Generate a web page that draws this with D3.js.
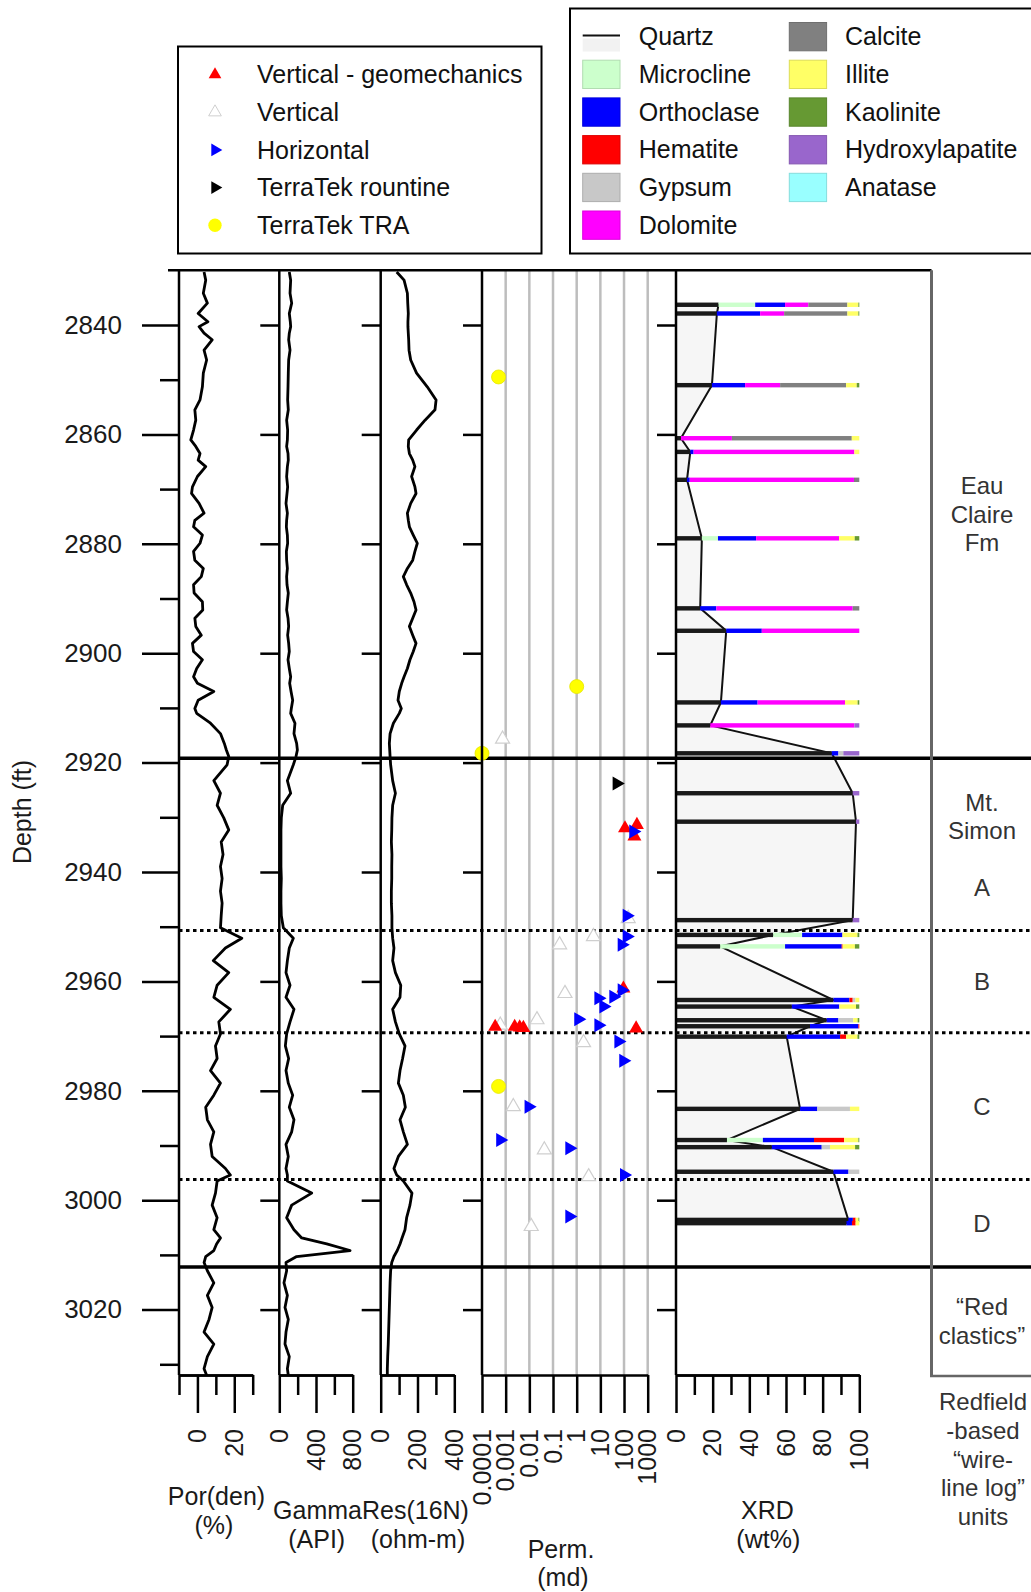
<!DOCTYPE html>
<html>
<head>
  <meta charset="utf-8">
  <title>Well log tracks: porosity, gamma, resistivity, permeability, XRD</title>
  <script src="https://cdn.jsdelivr.net/npm/d3@7/dist/d3.min.js"></script>
  <style>
    body { margin: 0; background: #fff; }
    svg { font-family: "Liberation Sans", Arial, Helvetica, sans-serif; }
  </style>
</head>
<body>
<script>
// ---- log curves (depth in ft) ----
var logDepth = [2830.3, 2831.8, 2834.2, 2836.0, 2837.9, 2839.4, 2840.3, 2841.5, 2842.7, 2844.6, 2846.4, 2848.8, 2851.3, 2853.7, 2855.5, 2857.4, 2859.2, 2861.0, 2862.2, 2863.5, 2864.7, 2865.9, 2867.7, 2869.6, 2870.8, 2872.6, 2874.4, 2875.7, 2876.9, 2878.4, 2879.9, 2881.4, 2883.0, 2884.5, 2886.0, 2887.5, 2889.0, 2890.6, 2892.1, 2893.6, 2895.1, 2896.7, 2898.2, 2899.7, 2901.2, 2902.8, 2904.3, 2905.5, 2907.0, 2908.6, 2910.1, 2911.0, 2912.8, 2914.7, 2916.5, 2917.7, 2918.9,
  2920.4, 2923.3, 2925.6, 2927.8, 2930.1, 2932.3, 2934.5, 2936.8, 2939.0, 2941.2, 2943.5, 2945.7, 2948.0, 2950.2, 2952.1, 2953.9, 2956.2, 2958.4, 2960.7, 2962.9, 2965.1, 2967.4, 2969.6, 2971.8, 2974.1, 2976.3, 2978.6, 2980.8, 2983.0, 2985.3, 2987.5, 2989.8, 2992.0, 2994.2, 2995.4, 2996.5, 2998.7, 3000.9, 3003.2, 3005.4, 3006.9, 3008.0, 3009.2, 3010.3, 3011.4, 3012.9, 3015.1, 3017.4, 3019.6, 3021.8, 3024.1, 3026.3, 3028.6, 3030.8, 3032.0];

var porosity = [3.6, 4.5, 3.2, 5.4, 0.4, 5.7, 0.9, 3.6, 8.0, 3.6, 5.0, 3.2, 2.7, 1.4, -1.4, -0.9, -2.1, -3.6, -0.9, 1.4, 0.4, 4.5, 0, -2.7, -3.2, 0.9, 3.6, -1.4, -2.1, 2.7, 1.4, -2.1, -1.4, 3.2, 2.1, -2.1, -1.8, 2.7, 2.9, -1.4, -0.9, 2.1, -2.7, -2.1, 2.7, -0.4, -2.1, 0, 8.9, 0.4, -1.4, -0.4, 7.1, 12.5, 14.6, 15.7, 17.0,
  16.1, 8.9, 12.5, 10.7, 14.3, 17.0, 12.9, 13.9, 12.5, 13.4, 12.5, 13.4, 12.9, 12.5, 24.1, 15.2, 8.6, 17.0, 10.7, 8.9, 17.9, 11.6, 12.5, 9.8, 10.7, 7.1, 12.5, 8.9, 4.5, 5.4, 8.9, 7.1, 8.0, 15.2, 17.9, 10.7, 9.8, 8.0, 10.7, 8.9, 12.5, 10.4, 8.9, 4.5, 3.6, 5.4, 8.9, 5.4, 8.0, 6.3, 3.6, 8.9, 5.4, 3.6, 5.0];

var gamma = [109, 124, 117, 135, 109, 120, 124, 109, 102, 117, 102, 98, 95, 91, 98, 80, 91, 88, 80, 95, 98, 88, 80, 91, 84, 73, 88, 80, 77, 88, 91, 77, 80, 88, 80, 84, 98, 88, 80, 95, 102, 91, 102, 109, 95, 109, 124, 113, 128, 146, 131, 124, 171, 160, 189, 197, 182,
  153, 88, 124, 37, 22, 18, 18, 18, 18, 22, 18, 18, 22, 44, 153, 109, 88, 73, 117, 73, 160, 117, 80, 66, 102, 73, 98, 146, 109, 160, 135, 73, 98, 73, 88, 88, 353, 135, 80, 160, 244, 517, 771, 189, 73, 80, 51, 88, 62, 98, 73, 62, 109, 88, 98];

var resistivity = [87, 127, 145, 147, 150, 148, 148, 150, 152, 154, 163, 195, 253, 301, 295, 241, 195, 152, 150, 156, 174, 186, 168, 186, 192, 163, 145, 150, 156, 177, 199, 186, 174, 145, 123, 141, 163, 181, 192, 174, 156, 174, 192, 177, 159, 145, 127, 114, 101, 94, 112, 101, 69, 51, 47, 49, 51,
  54, 65, 80, 65, 61, 60, 58, 61, 60, 60, 58, 58, 61, 61, 65, 72, 65, 80, 109, 105, 65, 80, 101, 132, 119, 105, 96, 123, 134, 105, 123, 145, 96, 72, 87, 123, 170, 159, 141, 132, 116, 105, 90, 72, 60, 54, 51, 49, 47, 45, 43, 41, 38, 36, 36];

// ---- permeability (md) by sample type ----
var permTypes = ["Vertical - geomechanics", "Vertical", "Horizontal", "TerraTek rountine", "TerraTek TRA"];
var geoDepth = [2931.4, 2932.0, 2933.5, 2961.3, 2968.3, 2968.3, 2968.4, 2968.5, 2968.6];
var geoPerm = [350, 110, 275, 94, 0.00036, 0.0024, 0.0039, 0.0056, 324];
var vertDepth = [2915.7, 2948.5, 2951.8, 2953.3, 2962.2, 2967.0, 2968.0, 2971.2, 2982.9, 2990.8, 2995.7, 3004.8];
var vertPerm = [0.00074, 150, 5.1, 0.19, 0.32, 0.021, 0.00059, 1.95, 0.0021, 0.043, 3.2, 0.012];
var horDepth = [2932.6, 2948.0, 2951.8, 2953.3, 2961.6, 2962.8, 2963.1, 2964.6, 2966.9, 2968.0, 2971.0, 2974.5, 2982.9, 2989.0, 2990.5, 2995.4, 3003.0];
var horPerm = [247, 130, 130, 80, 80, 35.5, 8.3, 13.5, 1.17, 8.3, 58, 93, 0.0093, 0.00059, 0.49, 100, 0.49];
var routineDepth = [2923.8];
var routinePerm = [49];
var traDepth = [2849.5, 2906.1, 2918.3, 2979.2];
var traPerm = [0.0005, 1.0, 0.0001, 0.0005];

// ---- XRD (wt%) ----
var minerals = ["Quartz", "Microcline", "Orthoclase", "Hematite", "Gypsum", "Dolomite", "Calcite", "Illite", "Kaolinite", "Hydroxylapatite", "Anatase"];
var mineralColors = ["#1a1a1a", "#ccffcc", "#0000ff", "#ff0000", "#c8c8c8", "#ff00ff", "#808080", "#ffff66", "#669933", "#9966cc", "#99ffff"];
var xrdDepth = [2836.3, 2837.9, 2851.0, 2860.7, 2863.2, 2868.3, 2879.0, 2891.8, 2895.9, 2909.0, 2913.2, 2918.3, 2925.6, 2930.8, 2948.8, 2951.5, 2953.6, 2963.4, 2964.6, 2967.1, 2968.2, 2970.1, 2983.3, 2989.0, 2990.3, 2994.8, 3003.6, 3004.2];
var quartz =          [23.2, 22.3, 19.6, 2.7, 7.8, 6.0, 14.1, 13.2, 27.4, 24.5, 18.7, 85.0, 96.4, 98.2, 96.4, 53.0, 24.1, 85.9, 63.2, 82.2, 73.1, 60.4, 67.7, 27.8, 52.3, 85.9, 94.0, 93.0];
var microcline =      [20.0, 0, 0, 0, 0, 0, 8.8, 0, 0, 0, 0, 0, 0, 0, 0, 15.8, 35.4, 0, 0, 0, 0, 0, 0, 19.6, 0, 0, 0, 0];
var orthoclase =      [16.3, 23.6, 18.1, 0, 1.8, 1.5, 20.8, 8.8, 19.4, 20.0, 0, 3.6, 0, 0, 0, 22.0, 30.9, 8.7, 25.9, 6.4, 26.4, 29.1, 9.4, 27.9, 27.2, 8.2, 2.5, 3.0];
var hematite =        [0, 0, 0, 0, 0, 0, 0, 0, 0, 0, 0, 0, 0, 0, 0, 0, 0.5, 1.8, 0, 0, 0.5, 3.3, 0, 16.4, 0, 0, 1.5, 2.0];
var gypsum =          [0, 0, 0, 0, 0, 0, 0, 0, 0, 0, 0, 2.7, 0, 0, 0, 0, 0, 1.5, 0, 8.1, 0, 0, 17.8, 0, 4.5, 5.9, 0, 0];
var dolomite =        [12.7, 13.1, 19.1, 27.8, 87.7, 89.6, 45.3, 74.4, 53.2, 47.7, 78.6, 0, 0, 0, 0, 0, 0, 0, 0, 0, 0, 0, 0, 0, 0, 0, 0, 0];
var calcite =         [21.3, 34.5, 36.0, 65.4, 0, 2.9, 0, 3.6, 0, 0, 0, 0, 0, 0, 0, 0, 0, 0, 0, 0, 0, 0, 0, 0, 0, 0, 0, 0];
var illite =          [6.0, 6.0, 5.8, 4.1, 2.7, 0, 8.5, 0, 0, 6.9, 0, 0, 0, 0, 0, 8.2, 6.7, 2.1, 9.1, 2.4, 0, 6.2, 5.1, 7.8, 13.7, 0, 1.5, 2.0];
var kaolinite =       [0.5, 0.5, 1.4, 0, 0, 0, 2.5, 0, 0, 0.9, 0, 0, 0, 0, 0, 1.0, 2.4, 0, 1.8, 0.9, 0, 1.0, 0, 0.5, 2.3, 0, 0.5, 0];
var hydroxylapatite = [0, 0, 0, 0, 0, 0, 0, 0, 0, 0, 2.7, 8.7, 3.6, 1.8, 3.6, 0, 0, 0, 0, 0, 0, 0, 0, 0, 0, 0, 0, 0];
var anatase =         [0, 0, 0, 0, 0, 0, 0, 0, 0, 0, 0, 0, 0, 0, 0, 0, 0, 0, 0, 0, 0, 0, 0, 0, 0, 0, 0, 0];
var mineralValues = [quartz, microcline, orthoclase, hematite, gypsum, dolomite, calcite, illite, kaolinite, hydroxylapatite, anatase];

// ---- formation tops / unit boundaries ----
var formationTops = [2919.2, 3012.2];
var unitTops = [2950.7, 2969.4, 2996.2];
var unitNames = [["Eau", "Claire", "Fm"], ["Mt.", "Simon"], ["A"], ["B"], ["C"], ["D"], ["\u201CRed", "clastics\u201D"]];
var unitMidDepth = [2874.6, 2929.9, 2942.9, 2960.0, 2982.8, 3004.2, 3022.1];

// ---- ticks ----
var depthMajor = [2840, 2860, 2880, 2900, 2920, 2940, 2960, 2980, 3000, 3020];
var depthMinor = [2850, 2870, 2890, 2910, 2930, 2950, 2970, 2990, 3010, 3030];
var porMajor = [0, 20], porMinor = [-10, 10, 30];
var gamMajor = [0, 400, 800], gamMinor = [200, 600];
var resMajor = [0, 200, 400], resMinor = [100, 300];
var permMajor = [0.0001, 0.001, 0.01, 0.1, 1, 10, 100, 1000];
var permLabels = ["0.0001", "0.001", "0.01", "0.1", "1", "10", "100", "1000"];
var xrdMajor = [0, 20, 40, 60, 80, 100], xrdMinor = [10, 30, 50, 70, 90];

// ================= drawing =================
var svg = d3.select("body").append("svg").attr("width", 1031).attr("height", 1592);

var y = d3.scaleLinear().domain([2840, 3020]).range([325, 1309.6]);
var plotTop = y(2830), plotBot = 1375;
var xPor = d3.scaleLinear().domain([-10, 30]).range([179, 252.7]);
var xGam = d3.scaleLinear().domain([0, 800]).range([279.3, 352.7]);
var xRes = d3.scaleLinear().domain([0, 400]).range([380.7, 454.3]);
var xPerm = d3.scaleLog().domain([0.0001, 1000]).range([482, 647.7]);
var xXrd = d3.scaleLinear().domain([0, 100]).range([676, 859.3]);
var trackLeft = [179, 279.3, 380.7, 482, 676];

// perm grid
svg.append("g").selectAll("line").data(permMajor.slice(1)).enter().append("line")
  .attr("x1", function(d) { return xPerm(d); }).attr("x2", function(d) { return xPerm(d); })
  .attr("y1", plotTop).attr("y2", plotBot)
  .attr("stroke", "#bdbdbd").attr("stroke-width", 2.5);

// XRD quartz polygon
var qPts = [[0, xrdDepth[0]]];
xrdDepth.forEach(function(d, i) { qPts.push([quartz[i], d]); });
qPts.push([0, xrdDepth[xrdDepth.length - 1]]);
svg.append("path")
  .attr("d", d3.line().x(function(p) { return xXrd(p[0]); }).y(function(p) { return y(p[1]); })(qPts) + "Z")
  .attr("fill", "#f6f6f6").attr("stroke", "#111").attr("stroke-width", 2);

// XRD stacked bars
var bars = [];
xrdDepth.forEach(function(d, i) {
  var cum = 0;
  mineralValues.forEach(function(arr, m) {
    if (arr[i] > 0) bars.push({ depth: d, x0: cum, x1: cum + arr[i], m: m });
    cum += arr[i];
  });
});
svg.append("g").selectAll("rect").data(bars).enter().append("rect")
  .attr("x", function(b) { return xXrd(b.x0); })
  .attr("width", function(b) { return Math.max(0.8, xXrd(b.x1) - xXrd(b.x0)); })
  .attr("y", function(b) { return y(b.depth) - 2.2; })
  .attr("height", 4.4)
  .attr("fill", function(b) { return mineralColors[b.m]; });

// log curves
function drawCurve(xs, vals) {
  var pts = logDepth.map(function(d, i) { return [vals[i], d]; });
  svg.append("path")
    .attr("d", d3.line().x(function(p) { return xs(p[0]); }).y(function(p) { return y(p[1]); })(pts))
    .attr("fill", "none").attr("stroke", "#000").attr("stroke-width", 2.8)
    .attr("stroke-linejoin", "round");
}
drawCurve(xPor, porosity);
drawCurve(xGam, gamma);
drawCurve(xRes, resistivity);

// boundaries
svg.append("g").selectAll("line").data(unitTops).enter().append("line")
  .attr("x1", 179).attr("x2", 1031)
  .attr("y1", function(d) { return y(d); }).attr("y2", function(d) { return y(d); })
  .attr("stroke", "#000").attr("stroke-width", 3).attr("stroke-dasharray", "3.5,3.5");
svg.append("g").selectAll("line").data(formationTops).enter().append("line")
  .attr("x1", 179).attr("x2", 1031)
  .attr("y1", function(d) { return y(d); }).attr("y2", function(d) { return y(d); })
  .attr("stroke", "#000").attr("stroke-width", 3.5);

// perm markers
var tri = d3.symbol().type(d3.symbolTriangle).size(85);
function markers(depths, perms, fill, stroke, rot) {
  svg.append("g").selectAll("path").data(depths).enter().append("path")
    .attr("d", tri)
    .attr("transform", function(d, i) { return "translate(" + xPerm(perms[i]) + "," + y(d) + ") rotate(" + rot + ")"; })
    .attr("fill", fill).attr("stroke", stroke).attr("stroke-width", 1.2);
}
markers(vertDepth, vertPerm, "#fff", "#cfcfcf", 0);
markers(geoDepth, geoPerm, "#ff0000", "none", 0);
markers(horDepth, horPerm, "#0000ff", "none", 90);
markers(routineDepth, routinePerm, "#000", "none", 90);
svg.append("g").selectAll("circle").data(traDepth).enter().append("circle")
  .attr("cx", function(d, i) { return xPerm(traPerm[i]); })
  .attr("cy", function(d) { return y(d); })
  .attr("r", 7).attr("fill", "#ffff00").attr("stroke", "#e6e600").attr("stroke-width", 0.8);

// track borders and top line
svg.append("g").selectAll("line").data(trackLeft).enter().append("line")
  .attr("x1", function(d) { return d; }).attr("x2", function(d) { return d; })
  .attr("y1", plotTop).attr("y2", plotBot)
  .attr("stroke", "#000").attr("stroke-width", 2.5);
svg.append("line").attr("x1", 168).attr("x2", 931.5).attr("y1", plotTop).attr("y2", plotTop)
  .attr("stroke", "#000").attr("stroke-width", 2.5);

// depth axis
function styleAxis(g) {
  g.selectAll("line").attr("stroke", "#000").attr("stroke-width", 2.5);
  g.selectAll("path").attr("stroke", "#000").attr("stroke-width", 2.5);
}
var da = svg.append("g").attr("transform", "translate(179,0)")
  .call(d3.axisLeft(y).tickValues(depthMajor).tickSize(37).tickPadding(20).tickFormat(d3.format("d")));
da.select(".domain").remove();
da.selectAll("text").attr("font-size", 26).attr("font-family", null).attr("fill", "#1a1a1a");
styleAxis(da);
var dm = svg.append("g").attr("transform", "translate(179,0)")
  .call(d3.axisLeft(y).tickValues(depthMinor).tickSize(19).tickFormat(""));
dm.select(".domain").remove();
styleAxis(dm);

// left ticks of the other tracks
trackLeft.slice(1).forEach(function(x) {
  var g = svg.append("g").attr("transform", "translate(" + x + ",0)")
    .call(d3.axisLeft(y).tickValues(depthMajor).tickSize(19).tickFormat(""));
  g.select(".domain").remove();
  styleAxis(g);
});

svg.append("text").attr("transform", "translate(31,812) rotate(-90)")
  .attr("text-anchor", "middle").attr("font-size", 25).attr("fill", "#1a1a1a").text("Depth (ft)");

// bottom axes
function bottomAxis(scale, major, minor, labels) {
  if (minor.length) {
    var gm = svg.append("g").attr("transform", "translate(0," + plotBot + ")")
      .call(d3.axisBottom(scale).tickValues(minor).tickSize(20).tickSizeOuter(0).tickFormat(""));
    styleAxis(gm);
  }
  var g = svg.append("g").attr("transform", "translate(0," + plotBot + ")")
    .call(d3.axisBottom(scale).tickValues(major).tickSize(38).tickSizeOuter(0).tickFormat(""));
  styleAxis(g);
  svg.append("g").selectAll("text").data(major).enter().append("text")
    .attr("transform", function(d) { return "translate(" + scale(d) + ",1429) rotate(-90)"; })
    .attr("text-anchor", "end").attr("dy", "0.35em").attr("font-size", 25).attr("fill", "#1a1a1a")
    .text(function(d, i) { return labels ? labels[i] : d; });
}
bottomAxis(xPor, porMajor, porMinor);
bottomAxis(xGam, gamMajor, gamMinor);
bottomAxis(xRes, resMajor, resMinor);
bottomAxis(xPerm, permMajor, [], permLabels);
bottomAxis(xXrd, xrdMajor, xrdMinor);

// axis titles
var titles = [["Por(den)", 216.5, 1496.3], ["(%)", 214, 1525.7], ["GammaRes(16N)", 371, 1510.5],
  ["(API)", 316.7, 1539], ["(ohm-m)", 418, 1539], ["Perm.", 561, 1549], ["(md)", 563, 1577.5],
  ["XRD", 767.5, 1510.5], ["(wt%)", 768.3, 1539]];
svg.append("g").selectAll("text").data(titles).enter().append("text")
  .attr("x", function(t) { return t[1]; }).attr("y", function(t) { return t[2]; })
  .attr("dy", "0.35em").attr("text-anchor", "middle").attr("font-size", 25).attr("fill", "#1a1a1a")
  .text(function(t) { return t[0]; });

// units column
svg.append("line").attr("x1", 931.5).attr("x2", 931.5).attr("y1", plotTop).attr("y2", 1376)
  .attr("stroke", "#666").attr("stroke-width", 3);
svg.append("line").attr("x1", 930).attr("x2", 1031).attr("y1", 1376).attr("y2", 1376)
  .attr("stroke", "#666").attr("stroke-width", 2.5);
unitNames.forEach(function(lines, k) {
  var yc = y(unitMidDepth[k]) - (lines.length - 1) * 28.5 / 2;
  lines.forEach(function(s, j) {
    svg.append("text").attr("x", 982).attr("y", yc + j * 28.5).attr("dy", "0.35em")
      .attr("text-anchor", "middle").attr("font-size", 24).attr("fill", "#333").text(s);
  });
});
["Redfield", "-based", "\u201Cwire-", "line log\u201D", "units"].forEach(function(s, j) {
  svg.append("text").attr("x", 983).attr("y", 1401.8 + j * 28.7).attr("dy", "0.35em")
    .attr("text-anchor", "middle").attr("font-size", 24).attr("fill", "#333").text(s);
});

// legend 1 (perm sample types)
svg.append("rect").attr("x", 178).attr("y", 46.5).attr("width", 363.5).attr("height", 207)
  .attr("fill", "#fff").attr("stroke", "#000").attr("stroke-width", 2);
var lg = svg.append("g").selectAll("g").data(permTypes).enter().append("g")
  .attr("transform", function(d, i) { return "translate(215," + (74.5 + i * 37.7) + ")"; });
lg.append("path")
  .attr("d", function(d, i) { return i < 4 ? d3.symbol().type(d3.symbolTriangle).size(70)() : d3.symbol().type(d3.symbolCircle).size(140)(); })
  .attr("transform", function(d, i) { return (i === 2 || i === 3) ? "rotate(90)" : null; })
  .attr("fill", function(d, i) { return ["#ff0000", "#fff", "#0000ff", "#000", "#ffff00"][i]; })
  .attr("stroke", function(d, i) { return i === 1 ? "#cfcfcf" : "none"; });
lg.append("text").attr("x", 42).attr("dy", "0.35em").attr("font-size", 25).attr("fill", "#111")
  .text(function(d) { return d; });

// legend 2 (minerals)
svg.append("rect").attr("x", 570).attr("y", 8.5).attr("width", 500).attr("height", 245)
  .attr("fill", "#fff").attr("stroke", "#000").attr("stroke-width", 2);
var ml = svg.append("g").selectAll("g").data(minerals).enter().append("g")
  .attr("transform", function(d, i) {
    var col = i < 6 ? 0 : 1, row = i < 6 ? i : i - 6;
    return "translate(" + (col ? 789.3 : 582.7) + "," + (36.5 + row * 37.7) + ")";
  });
ml.each(function(d, i) {
  var g = d3.select(this);
  if (i === 0) {
    g.append("rect").attr("x", 0).attr("y", 2).attr("width", 37.3).attr("height", 13).attr("fill", "#f2f2f2");
    g.append("line").attr("x1", 0).attr("x2", 37.3).attr("y1", -1).attr("y2", -1).attr("stroke", "#111").attr("stroke-width", 2);
  } else {
    g.append("rect").attr("x", 0).attr("y", -14).attr("width", 37.3).attr("height", 28.3)
      .attr("fill", mineralColors[i]).attr("stroke", d3.color(mineralColors[i]).darker(0.4)).attr("stroke-width", 1);
  }
});
ml.append("text").attr("x", function(d, i) { return i < 6 ? 56 : 55.7; }).attr("dy", "0.35em")
  .attr("font-size", 25).attr("fill", "#111").text(function(d) { return d; });
</script>
</body>
</html>
